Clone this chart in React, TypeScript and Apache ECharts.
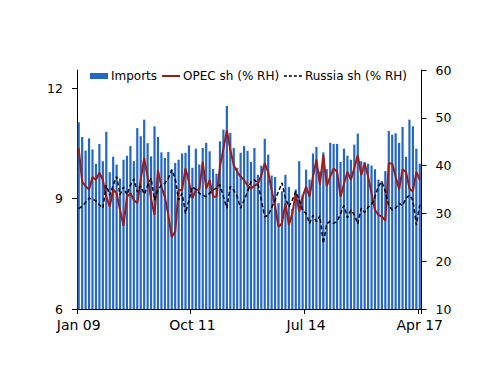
import React, { useEffect, useRef } from "react";
import * as echarts from "echarts";

const MONTH_NAMES = ["Jan", "Feb", "Mar", "Apr", "May", "Jun", "Jul", "Aug", "Sep", "Oct", "Nov", "Dec"];
// Monthly categories, Jan 09 .. Apr 17 (100 months)
const categories: string[] = [];
for (let i = 0; i < 100; i++) {
  const y = 9 + Math.floor(i / 12);
  categories.push(`${MONTH_NAMES[i % 12]} ${y < 10 ? "0" + y : y}`);
}
const tickLabels = ["Jan 09", "Oct 11", "Jul 14", "Apr 17"];
const leftTicks = [6, 9, 12];

// Imports (left axis)
const imports = [
  11.08, 10.68, 10.31, 10.64, 10.34, 9.95, 10.49, 10.02, 10.82, 9.72, 10.14, 9.93, 9.55, 10.06, 10.17, 10.43, 10.02, 10.92, 10.7, 11.15, 10.51, 10.15, 10.97, 10.68, 10.26,
  10.11, 10.27, 9.79, 9.97, 10.06, 10.23, 10.25, 10.45, 9.84, 10.36, 9.93, 10.38, 10.52, 10.29, 9.81, 9.68, 10.56, 10.88, 11.52, 10.79, 10.38, 9.84, 10.25, 10.43, 10.3,
  10.0, 10.38, 9.65, 9.9, 10.63, 10.2, 9.63, 9.59, 8.88, 9.2, 9.65, 9.32, 8.72, 9.25, 10.02, 9.1, 9.79, 9.52, 10.23, 10.41, 9.74, 10.26, 9.8, 10.52, 10.49,
  10.49, 10.0, 10.36, 10.17, 10.06, 10.47, 10.77, 10.02, 10.0, 9.95, 9.9, 9.8, 9.52, 9.48, 9.75, 10.84, 10.74, 10.78, 10.52, 10.95, 10.14, 11.15, 10.97, 10.36, 9.95,
];

// OPEC share (% RH)
const opecShare = [
  43.6, 36.6, 35.7, 35.0, 37.6, 37.0, 38.5, 37.0, 33.5, 31.4, 35.0, 34.2, 30.7, 27.4, 33.5, 34.2, 32.8, 32.1, 37.0, 41.6, 37.7, 33.0, 29.7, 39.1,
  35.5, 33.5, 29.7, 25.0, 26.2, 34.9, 34.9, 39.4, 36.6, 33.2, 34.9, 35.0, 40.8, 35.2, 37.0, 33.5, 33.5, 39.8, 43.5, 47.4, 43.3, 40.1, 38.7, 37.7, 37.0,
  35.9, 35.2, 35.8, 36.2, 38.0, 40.5, 38.6, 34.9, 31.5, 27.2, 27.9, 32.1, 27.6, 30.0, 34.2, 30.4, 33.5, 35.6, 33.5,
  37.7, 41.3, 36.0, 42.2, 35.7, 37.7, 39.4,
  38.7, 33.5, 36.2, 38.7, 37.0, 39.5, 42.2, 38.0, 40.5, 37.7, 34.2, 30.7, 29.7, 29.3, 28.5, 40.5, 40.4, 37.7, 35.0, 39.2, 38.7, 35.2, 34.6, 38.7, 37.0,
];

// Russia share (% RH)
const russiaShare = [
  31.0, 31.5, 32.3, 33.2, 33.0, 32.6, 31.8, 31.1, 35.9, 33.8, 35.9, 37.7, 33.9, 35.5, 33.9, 35.9, 37.2, 34.5, 35.8, 34.0, 35.8, 37.4, 32.8, 35.0,
  35.9, 36.3, 37.3, 39.1, 37.3, 32.8, 34.2, 30.0, 32.8, 35.6, 35.0, 34.2, 33.8, 33.5, 34.2, 34.9, 35.3, 36.0, 33.5, 31.1, 35.6, 34.9, 33.5, 31.1, 32.8,
  34.5, 36.6, 37.0, 36.4, 32.8, 29.3, 29.6, 31.2, 32.8, 34.6, 36.4, 33.2, 31.4, 32.8, 34.6, 32.8, 30.6, 30.0, 27.9, 29.6, 28.3, 29.5, 23.7, 27.9, 28.3, 27.9,
  28.3, 30.0, 31.6, 29.1, 30.7, 29.7, 27.8, 31.1, 30.2, 31.3, 31.8, 33.5, 35.7, 36.6, 34.6, 31.6, 30.7, 31.1, 32.1, 31.6, 33.2, 33.8, 32.8, 27.6, 31.8,
];

const FONT = "DejaVu Sans";

export default function App() {
  const ref = useRef<HTMLDivElement>(null);
  useEffect(() => {
    if (!ref.current) return;
    const chart = echarts.init(ref.current, undefined, { renderer: "svg" });
    const showIdx = (i: number) => tickLabels.indexOf(categories[i]) >= 0;
    const axisLine = { show: true, lineStyle: { color: "#000", width: 1 } };
    chart.setOption({
      animation: false,
      backgroundColor: "#fff",
      textStyle: { fontFamily: FONT },
      grid: { left: 77, right: 78.5, top: 70, bottom: 77, containLabel: false },
      legend: {
        left: 90,
        top: 70,
        padding: 0,
        itemGap: 4,
        itemWidth: 18,
        itemHeight: 6,
        textStyle: { fontSize: 12, color: "#000", fontFamily: FONT, padding: [0, 0, 0, -2] },
        data: [
          { name: "Imports", icon: "rect" },
          { name: "OPEC sh (% RH)", itemStyle: { opacity: 0 } },
          { name: "Russia sh (% RH)", itemStyle: { opacity: 0 }, lineStyle: { width: 1.5, type: [3, 2] } },
        ],
      },
      xAxis: {
        type: "category",
        data: categories,
        boundaryGap: true,
        axisLine,
        axisTick: { show: true, interval: (i: number) => showIdx(i), alignWithLabel: false, length: 5, lineStyle: { color: "#000" } },
        axisLabel: { interval: (i: number) => showIdx(i), fontSize: 14, color: "#000", margin: 9, fontFamily: FONT },
        splitLine: { show: false },
      },
      yAxis: [
        {
          type: "value",
          position: "left",
          min: 6,
          max: 12.5,
          interval: 3,
          axisLine,
          axisTick: { show: true, length: 5, lineStyle: { color: "#000" } },
          axisLabel: {
            fontSize: 12.5,
            color: "#000",
            margin: 14,
            fontFamily: FONT,
            showMaxLabel: false,
            formatter: (v: number) => (leftTicks.indexOf(v) >= 0 ? String(v) : ""),
          },
          splitLine: { show: false },
        },
        {
          type: "value",
          position: "right",
          min: 10,
          max: 60,
          interval: 10,
          axisLine,
          axisTick: { show: true, length: 5, lineStyle: { color: "#000" } },
          axisLabel: { fontSize: 12.5, color: "#000", margin: 14, fontFamily: FONT },
          splitLine: { show: false },
        },
      ],
      series: [
        {
          name: "Imports",
          type: "bar",
          yAxisIndex: 0,
          data: imports,
          barWidth: 2.2,
          itemStyle: { color: "#2468c6" },
        },
        {
          name: "OPEC sh (% RH)",
          type: "line",
          yAxisIndex: 1,
          data: opecShare,
          symbol: "none",
          showSymbol: false,
          lineStyle: { color: "#9e1b1b", width: 2 },
          itemStyle: { color: "#9e1b1b" },
        },
        {
          name: "Russia sh (% RH)",
          type: "line",
          yAxisIndex: 1,
          data: russiaShare,
          symbol: "none",
          showSymbol: false,
          lineStyle: { color: "#000", width: 1.5, type: [4, 2.5] },
          itemStyle: { color: "#000" },
        },
      ],
    });
    return () => chart.dispose();
  }, []);
  return <div ref={ref} style={{ position: "fixed", left: 0, top: 0, width: 500, height: 386 }} />;
}
